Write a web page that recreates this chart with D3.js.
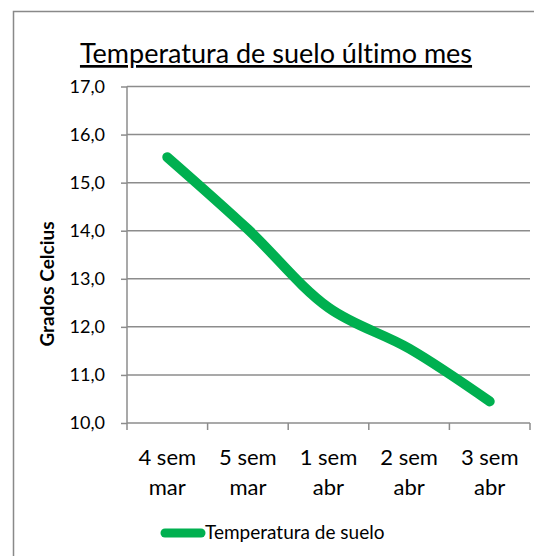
<html>
<head>
<meta charset="utf-8">
<title>Temperatura de suelo</title>
<script src="https://d3js.org/d3.v7.min.js"></script>
<style>
  body { margin: 0; background: #fff; }
  text { font-family: Lato, "Open Sans", sans-serif; fill: #000; font-variant-ligatures: none; }
</style>
</head>
<body>
<div id="chart"></div>
<script>
// datos
const categorias = [["4 sem", "mar"], ["5 sem", "mar"], ["1 sem", "abr"], ["2 sem", "abr"], ["3 sem", "abr"]];
const temperatura = [15.53, 14.03, 12.4, 11.55, 10.45];
const yTicks = [10, 11, 12, 13, 14, 15, 16, 17];
const titulo = "Temperatura de suelo último mes";
const serie = "Temperatura de suelo";
const ejeY = "Grados Celcius";

const W = 534, H = 556;
const plot = { left: 127, right: 530, top: 86.5, bottom: 423 };

const svg = d3.select("#chart").append("svg")
  .attr("width", W).attr("height", H);

// marco
svg.append("rect")
  .attr("x", 13.5).attr("y", 11.5)
  .attr("width", 560).attr("height", 600)
  .attr("fill", "#fff").attr("stroke", "#898989").attr("stroke-width", 1.5);

const x = d3.scaleBand()
  .domain(categorias.map((d, i) => i))
  .range([plot.left, plot.right])
  .padding(0);

const y = d3.scaleLinear()
  .domain([10, 17])
  .range([plot.bottom, plot.top]);

// lineas de cuadricula
svg.append("g")
  .selectAll("line")
  .data(yTicks.filter(d => d > 10))
  .enter().append("line")
  .attr("x1", plot.left).attr("x2", plot.right)
  .attr("y1", d => y(d)).attr("y2", d => y(d))
  .attr("stroke", "#8c8c8c").attr("stroke-width", 1.5);

// eje y
const gy = svg.append("g")
  .attr("transform", `translate(${plot.left},0)`)
  .call(d3.axisLeft(y).tickValues(yTicks).tickSize(6).tickPadding(16)
    .tickFormat(d => d3.format(".1f")(d).replace(".", ",")));
gy.select(".domain").attr("stroke", "#8c8c8c").attr("stroke-width", 1.5).attr("d", `M0,${plot.top}V${plot.bottom}`);
gy.selectAll(".tick line").attr("stroke", "#8c8c8c").attr("stroke-width", 1.5);
gy.selectAll(".tick text").style("font-size", "18px").attr("fill", "#000");

// eje x
const gx = svg.append("g")
  .attr("transform", `translate(0,${plot.bottom})`);
gx.append("line")
  .attr("x1", plot.left).attr("x2", plot.right)
  .attr("stroke", "#8c8c8c").attr("stroke-width", 1.5);
const bordes = categorias.map((d, i) => x(i)).concat([plot.right]);
gx.selectAll(".tk")
  .data(bordes)
  .enter().append("line")
  .attr("class", "tk")
  .attr("x1", d => d).attr("x2", d => d)
  .attr("y1", 0).attr("y2", 7)
  .attr("stroke", "#8c8c8c").attr("stroke-width", 1.5);
gx.selectAll(".lbl")
  .data(categorias)
  .enter().append("text")
  .attr("class", "lbl")
  .attr("text-anchor", "middle")
  .style("font-size", "22px")
  .each(function(d, i) {
    const t = d3.select(this);
    d.forEach((linea, j) => {
      t.append("tspan")
        .attr("x", x(i) + x.bandwidth() / 2)
        .attr("y", 42 + j * 30)
        .text(linea);
    });
  });

// linea de datos
const linea = d3.line()
  .x((d, i) => x(i) + x.bandwidth() / 2)
  .y(d => y(d))
  .curve(d3.curveCatmullRom.alpha(0.5));

svg.append("path")
  .datum(temperatura)
  .attr("d", linea)
  .attr("fill", "none")
  .attr("stroke", "#00b050")
  .attr("stroke-width", 10)
  .attr("stroke-linecap", "round")
  .attr("stroke-linejoin", "round");

// titulo
svg.append("text")
  .attr("x", 276).attr("y", 63)
  .attr("text-anchor", "middle")
  .style("font-size", "27px")
  .style("text-decoration", "underline")
  .text(titulo);

// titulo eje y
svg.append("text")
  .attr("transform", "translate(54,284) rotate(-90)")
  .attr("text-anchor", "middle")
  .style("font-size", "19px")
  .style("font-weight", "bold")
  .text(ejeY);

// leyenda
svg.append("line")
  .attr("x1", 165).attr("x2", 201)
  .attr("y1", 533).attr("y2", 533)
  .attr("stroke", "#00b050").attr("stroke-width", 9)
  .attr("stroke-linecap", "round");
svg.append("text")
  .attr("x", 205).attr("y", 539)
  .style("font-size", "19px")
  .text(serie);
</script>
</body>
</html>
